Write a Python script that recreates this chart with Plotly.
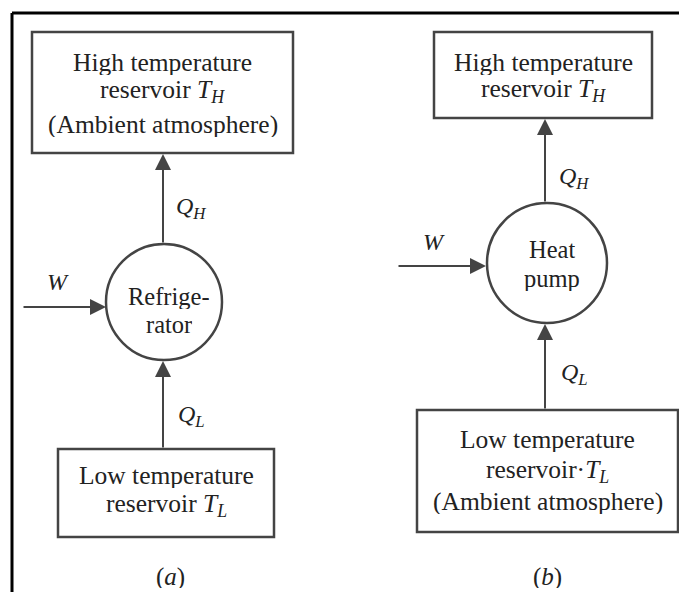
import plotly.graph_objects as go

W_PX, H_PX = 687, 592
PAGE_MARGIN = 8  # browser default body margin

# ---- text content ----
box_texts = {
    "a_top": ["High temperature", "reservoir <i>T</i><sub><i>H</i></sub>", "(Ambient atmosphere)"],
    "a_bot": ["Low temperature", "reservoir <i>T</i><sub><i>L</i></sub>"],
    "b_top": ["High temperature", "reservoir <i>T</i><sub><i>H</i></sub>"],
    "b_bot": ["Low temperature", "reservoir·<i>T</i><sub><i>L</i></sub>", "(Ambient atmosphere)"],
}
circle_texts = {"a": ["Refrige-", "rator"], "b": ["Heat", "pump"]}
flow_labels = {"QH": "<i>Q</i><sub><i>H</i></sub>", "QL": "<i>Q</i><sub><i>L</i></sub>", "W": "<i>W</i>"}
panel_labels = {"a": "(<i>a</i>)", "b": "(<i>b</i>)"}

# ---- geometry (pixel coordinates, y downward) ----
boxes = {
    "a_top": (32, 32, 293, 153),
    "a_bot": (58, 449, 274, 537),
    "b_top": (434, 32, 652, 118),
    "b_bot": (417, 410, 678, 532),
}
box_line_y = {
    "a_top": [62, 91, 124],
    "a_bot": [475, 505],
    "b_top": [62, 90],
    "b_bot": [439, 471, 501],
}
circles = {"a": (164, 302, 58), "b": (547, 263, 60)}
circle_line_y = {"a": [296, 324], "b": [249, 278]}

TXT = "#222222"
LINE = "#444444"
FONT = "Liberation Serif"

fig = go.Figure()
shapes = []
ann = []

# outer frame (top and left)
shapes.append(dict(type="line", x0=12, y0=13, x1=W_PX, y1=13, line=dict(color="black", width=3)))
shapes.append(dict(type="line", x0=12, y0=13, x1=12, y1=H_PX, line=dict(color="black", width=3)))

for k, (x0, y0, x1, y1) in boxes.items():
    shapes.append(dict(type="rect", x0=x0, y0=y0, x1=x1, y1=y1,
                       line=dict(color=LINE, width=2.5), fillcolor="rgba(0,0,0,0)"))
    cx = (x0 + x1) / 2
    for t, yy in zip(box_texts[k], box_line_y[k]):
        ann.append(dict(x=cx, y=yy, text=t, showarrow=False, xanchor="center", yanchor="middle",
                        height=26, valign="middle",
                        font=dict(family=FONT, size=25.5, color=TXT)))

for k, (cx, cy, r) in circles.items():
    shapes.append(dict(type="circle", x0=cx - r, y0=cy - r, x1=cx + r, y1=cy + r,
                       line=dict(color=LINE, width=2.5)))
    for t, yy in zip(circle_texts[k], circle_line_y[k]):
        ann.append(dict(x=cx + 5, y=yy, text=t, showarrow=False, xanchor="center", yanchor="middle",
                        height=26, valign="middle",
                        font=dict(family=FONT, size=24.5, color=TXT)))

def arrow(x_from, y_from, x_to, y_to):
    ann.append(dict(x=x_to, y=y_to, ax=x_from, ay=y_from, xref="x", yref="y", axref="x", ayref="y",
                    text="", showarrow=True, arrowhead=2, arrowsize=1.6, arrowwidth=2,
                    arrowcolor=LINE, standoff=0, startstandoff=0))

# panel (a)
arrow(163, 244, 163, 154)      # Q_H up
arrow(163, 449, 163, 361)      # Q_L up
arrow(22, 307, 106, 307)       # W right
# panel (b)
arrow(545, 203, 545, 119)
arrow(545, 410, 545, 324)
arrow(397, 266, 486, 266)

def label(x, y, t, size=24, h=None):
    d = dict(x=x, y=y, text=t, showarrow=False, xanchor="center", yanchor="middle",
             font=dict(family=FONT, size=size, color=TXT))
    if h:
        d.update(height=h, valign="middle")
    ann.append(d)

label(191, 208, flow_labels["QH"])
label(191, 416, flow_labels["QL"])
label(58, 282, flow_labels["W"])
label(574, 178, flow_labels["QH"])
label(574, 374, flow_labels["QL"])
label(434, 242, flow_labels["W"])
label(170, 577, panel_labels["a"], 25, 22)
label(547, 577, panel_labels["b"], 25, 22)

fig.update_layout(
    width=W_PX - PAGE_MARGIN, height=H_PX - PAGE_MARGIN,
    margin=dict(l=0, r=0, t=0, b=0),
    paper_bgcolor="white", plot_bgcolor="white",
    xaxis=dict(range=[PAGE_MARGIN, W_PX], visible=False, fixedrange=True),
    yaxis=dict(range=[H_PX, PAGE_MARGIN], visible=False, fixedrange=True),
    shapes=shapes, annotations=ann, showlegend=False,
)
fig.write_html("out.html")
